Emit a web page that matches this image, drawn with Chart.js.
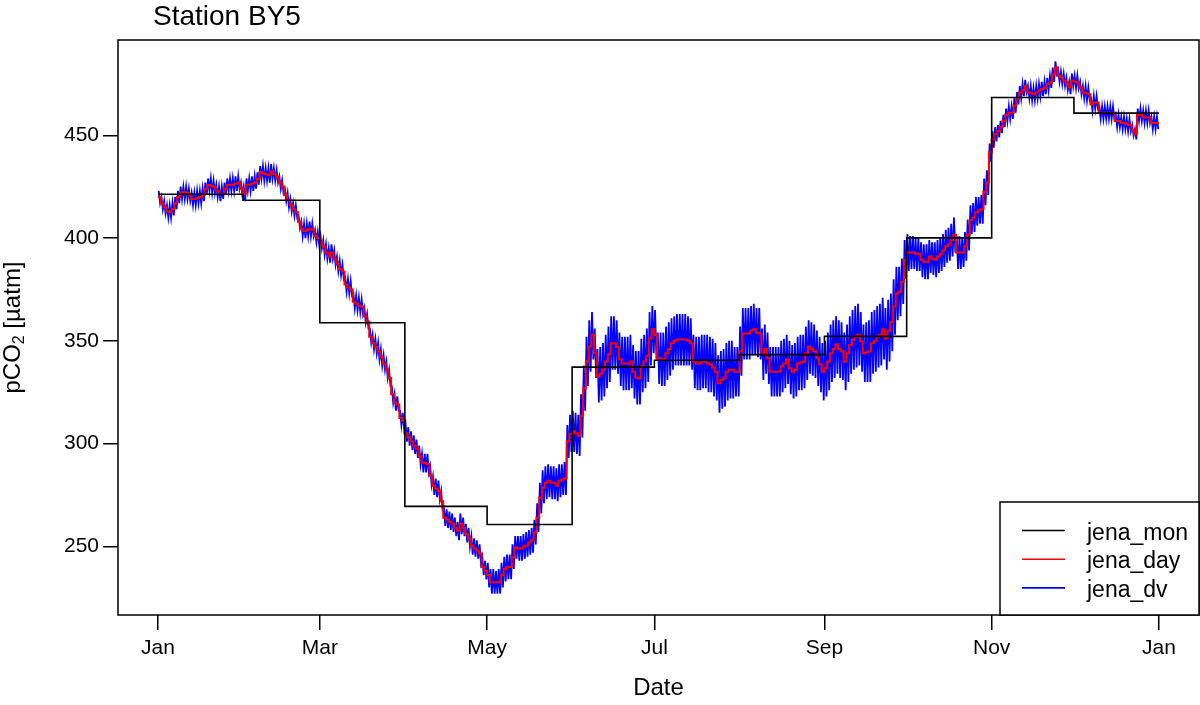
<!DOCTYPE html>
<html><head><meta charset="utf-8">
<script src="https://cdn.jsdelivr.net/npm/chart.js@4"></script>
<style>html,body{margin:0;padding:0;background:#fff;}canvas{display:block;}</style>
</head><body>
<canvas id="c" width="1200" height="705"></canvas>
<script>
const FONT = "'Liberation Sans', Arial, Helvetica, sans-serif";
const titleText = 'Station BY5';
const xTitle = 'Date';
const seriesNames = ['jena_mon', 'jena_day', 'jena_dv'];
const seriesColors = ['#000000', '#ff0000', '#0000ff'];
const tickLabels = ['Jan', 'Mar', 'May', 'Jul', 'Sep', 'Nov', 'Jan'];
const tickDays = [0, 59, 120, 181, 243, 304, 365];
const yTicks = [250, 300, 350, 400, 450];
const monthStart = [0, 31, 59, 90, 120, 151, 181, 212, 243, 273, 304, 334];
const jenaMon = [421.3, 418.4, 358.8, 269.5, 260.7, 337.2, 340.6, 343.3, 352.2, 400.1, 468.4, 460.8];
const jenaDay = [
420,417,415,413,412.7,414,417,420,422,422.4,
422,421,419,419,419.5,420,421,424,425.8,425.5,
425,423,421.5,421.5,424,426,426,426,426.5,427,
424,421.5,426,426,426.5,427,428.7,432,431.5,431,
430.6,432.5,431,429.7,427,425,421,418.5,416,414,
412.7,408,404.5,403.5,404,404.5,404,401,400,398,
395.8,393,391,393,390,387.5,385,383.7,377.4,376,
375,369,368,367,366.7,362,359.4,352,349,347,
345,342,339,336,332,324,320,319,312.5,311,
305,303,301,299,297.5,294,290.8,290.5,290,284.4,
279.5,278,277,272,264,263,262,261,259,257.7,
261,259,256,254,250.5,249,248,246.5,240,238,
236,232.6,232.6,232.6,232.6,236,239,240,240,244.7,
249.5,249,249,250,250.5,252,253,256.8,264,273.7,
278.6,281,282,281,281,279.5,282,282.5,283,301,
304.7,306,305,303.8,313.5,327,340,347.3,353,344,
332.8,334,336,340,343.5,348.8,348.8,347,341,339,
339,339,340,335,332,331.8,337.7,340,342.5,351.2,
355.6,353,341.5,341,341,344,346,348.8,350,350.7,
350.7,350.7,350.7,350,348.8,340,339,339,340,340,
339,338.6,337,335,329.4,331,331.8,335,336,336,
335,335,344.9,353.6,353.6,353.6,355,355.6,354,353.6,
343.5,346,341.5,335,335,335,335,337.7,339,341,
336.7,335,336,339,339.5,340,344,347.3,346,345,
341.5,338.6,335,336.7,340,344,346,348.3,346,345,
340,344,348,350.7,352,353,349.8,344,344.5,345,
348.8,350,352,353,355.6,351.2,355,359,366.7,373,
374,378.8,389.5,393,393,393,392.4,392.4,389.5,388.5,
388.5,391,390,389.5,391,392.4,394,396,397,399,
401.6,393,393,393,396,401.6,408.8,410,412.7,413.5,
414,422.4,427,441.8,448,450.5,452,454,457,460,
461,461,464.5,468,470.8,472,474,470.8,470.5,470,
471,471.8,472.5,473.2,475,475.7,479.5,483,479,478,
476.6,475,473.2,476.6,476,475.7,473,470.8,470.5,470,
465,466,466,461,461,461,461,461,461,457,
457,456,456,455.3,455,452.4,450.5,460,460,458.7,
458.7,458.7,456,456,456
];
// two readings per day (night high, afternoon low)
const jenaDv = [
423,417,420,414,418,412,416,410,416,410,417,411,420,414,423,417,425,419,425,419,
425,419,424,418,422,416,422,416,423,417,423,417,424,418,427,421,429,423,429,422,
428,422,426,420,425,418,425,419,427,421,429,423,429,423,429,423,430,423,430,424,
427,421,425,418,429,423,429,423,430,423,430,424,432,426,435,429,435,428,434,428,
434,427,436,429,434,428,433,427,430,424,428,422,424,418,422,415,419,413,417,411,
416,410,411,405,408,401,407,400,407,401,408,401,407,401,404,398,403,397,401,395,
399,392,397,390,395,388,397,390,394,387,391,384,389,382,387,380,381,374,380,373,
379,372,373,366,372,365,371,364,370,363,366,359,363,356,356,349,353,346,351,344,
349,341,346,338,343,336,340,332,336,328,328,320,324,316,323,316,316,309,315,307,
310,301,308,299,306,297,304,295,302,293,299,290,295,286,295,286,295,286,289,280,
284,275,283,274,282,273,277,268,269,260,268,259,267,258,266,257,264,255,262,253,
266,256,264,255,261,252,259,250,255,246,254,245,253,244,251,242,245,236,243,234,
242,230,239,227,239,227,238,227,239,227,242,230,245,233,246,234,246,234,251,239,
255,244,255,243,255,243,256,244,257,245,258,246,259,247,263,251,271,257,281,266,
287,271,289,273,290,274,289,273,289,273,288,272,290,274,290,275,291,275,309,293,
314,296,316,296,315,295,314,294,324,303,338,316,352,328,360,335,364,341,356,332,
346,320,347,321,349,323,353,327,357,330,362,336,362,336,360,334,354,328,352,326,
352,326,352,326,353,327,348,322,345,319,345,319,351,325,353,327,356,330,364,338,
367,344,365,341,354,329,354,328,354,328,357,331,359,333,361,336,362,338,363,338,
363,338,363,338,363,338,362,338,361,336,353,327,352,326,352,326,353,327,353,327,
353,325,352,325,351,323,349,321,343,315,345,317,346,318,349,321,350,322,350,322,
347,323,347,323,357,333,366,341,366,341,366,341,367,343,368,343,366,342,366,341,
356,331,358,334,354,329,347,323,347,323,347,323,347,323,350,325,351,327,353,329,
350,324,348,322,349,323,352,326,353,326,353,327,357,331,360,334,359,333,358,332,
355,328,352,325,349,321,350,323,354,326,358,330,360,332,362,334,360,332,359,331,
354,326,358,330,362,334,365,336,367,337,368,338,364,335,358,330,359,330,360,330,
364,334,365,335,367,337,368,338,371,341,366,336,370,340,373,345,380,353,386,360,
386,362,390,368,399,380,402,384,401,385,401,385,400,384,400,384,398,381,397,380,
397,380,399,383,398,382,398,381,399,383,400,384,402,386,404,388,405,389,407,391,
410,393,401,385,401,385,400,386,403,389,409,394,416,402,417,403,420,406,420,407,
421,407,429,416,433,421,446,437,452,444,454,447,455,449,457,451,460,454,463,457,
464,458,464,458,468,461,471,465,474,468,475,469,477,471,474,468,474,467,473,467,
474,468,475,469,476,469,476,470,478,472,479,473,483,476,486,480,482,476,481,475,
480,474,478,472,476,470,480,474,479,473,479,473,476,470,474,468,474,467,473,467,
468,462,469,463,469,463,464,458,464,458,464,458,464,458,464,458,464,458,460,454,
460,454,459,453,459,453,458,452,458,452,455,450,453,448,463,457,463,457,462,456,
462,456,462,456,459,453,459,453,459,453
];

const YEAR_END = 365;
const monPts = monthStart.map((d, i) => ({ x: d, y: jenaMon[i] }));
monPts.push({ x: YEAR_END, y: jenaMon[jenaMon.length - 1] });
const dayPts = jenaDay.map((v, i) => ({ x: i, y: v }));
dayPts.push({ x: YEAR_END, y: jenaDay[jenaDay.length - 1] });
const dvPts = jenaDv.map((v, i) => ({ x: i / 2 + 0.25, y: v }));

// R-style 4% axis extension
const xPad = 0.04 * YEAR_END;
const yMinData = Math.min(...jenaDv), yMaxData = Math.max(...jenaDv);
const yPad = 0.04 * (yMaxData - yMinData);

const frame = {
  id: 'frame',
  afterDatasetsDraw(chart) {
    const ctx = chart.ctx, a = chart.chartArea;
    ctx.save();
    ctx.strokeStyle = '#000';
    ctx.lineWidth = 1.5;
    ctx.strokeRect(a.left, a.top, a.right - a.left, a.bottom - a.top);

    // legend (bottom right)
    const lw = 199, lh = 113;
    const lx = a.right - lw, ly = a.bottom - lh;
    ctx.fillStyle = '#fff';
    ctx.fillRect(lx, ly, lw, lh);
    ctx.strokeRect(lx, ly, lw, lh);
    ctx.font = '23px ' + FONT;
    ctx.textBaseline = 'alphabetic';
    ctx.textAlign = 'left';
    seriesNames.forEach((n, i) => {
      const yy = ly + 28.5 + i * 28.7;
      ctx.strokeStyle = seriesColors[i];
      ctx.lineWidth = 1.6;
      ctx.beginPath(); ctx.moveTo(lx + 22, yy); ctx.lineTo(lx + 65, yy); ctx.stroke();
      ctx.fillStyle = '#000';
      ctx.fillText(n, lx + 87, yy + 9);
    });

    // title
    ctx.fillStyle = '#000';
    ctx.font = '28px ' + FONT;
    ctx.fillText(titleText, 153, 25);

    // x title
    ctx.font = '24px ' + FONT;
    ctx.textAlign = 'center';
    ctx.fillText(xTitle, (a.left + a.right) / 2, 695);

    // y title with subscript
    ctx.translate(20, (a.top + a.bottom) / 2);
    ctx.rotate(-Math.PI / 2);
    ctx.textAlign = 'left';
    const big = '24px ' + FONT, small = '16px ' + FONT;
    ctx.font = big; const w1 = ctx.measureText('pCO').width;
    ctx.font = small; const w2 = ctx.measureText('2').width;
    ctx.font = big; const w3 = ctx.measureText(' [\u00b5atm]').width;
    let sx = -(w1 + w2 + w3) / 2;
    ctx.font = big; ctx.fillText('pCO', sx, 0); sx += w1;
    ctx.font = small; ctx.fillText('2', sx, 4); sx += w2;
    ctx.font = big; ctx.fillText(' [\u00b5atm]', sx, 0);
    ctx.restore();
  }
};

new Chart(document.getElementById('c'), {
  type: 'line',
  data: {
    datasets: [
      { label: seriesNames[0], data: monPts, borderColor: seriesColors[0], borderWidth: 1.6, stepped: 'before', order: 0 },
      { label: seriesNames[1], data: dayPts, borderColor: seriesColors[1], borderWidth: 2, stepped: 'before', order: 1 },
      { label: seriesNames[2], data: dvPts, borderColor: seriesColors[2], borderWidth: 1.8, order: 2 }
    ]
  },
  options: {
    responsive: false,
    animation: false,
    devicePixelRatio: 1,
    layout: { padding: { top: 40, right: 1, left: 0, bottom: 0 } },
    elements: { point: { radius: 0 }, line: { tension: 0, fill: false } },
    plugins: { legend: { display: false }, tooltip: { enabled: false }, title: { display: false } },
    scales: {
      x: {
        type: 'linear',
        min: -xPad, max: YEAR_END + xPad,
        afterBuildTicks(s) { s.ticks = tickDays.map(v => ({ value: v })); },
        afterFit(s) { s.height = 90; },
        ticks: { autoSkip: false, maxRotation: 0, color: '#000', padding: 6,
                 font: { family: FONT, size: 21 },
                 callback: (v, i) => tickLabels[i] },
        grid: { drawOnChartArea: false, drawTicks: true, tickLength: 15, color: '#000', lineWidth: 1.5 },
        border: { display: false }
      },
      y: {
        min: yMinData - yPad, max: yMaxData + yPad,
        afterBuildTicks(s) { s.ticks = yTicks.map(v => ({ value: v })); },
        afterFit(s) { s.width = 118; },
        ticks: { color: '#000', padding: 4, font: { family: FONT, size: 21 }, callback: v => String(v) },
        grid: { drawOnChartArea: false, drawTicks: true, tickLength: 15, color: '#000', lineWidth: 1.5 },
        border: { display: false }
      }
    }
  },
  plugins: [frame]
});
</script>
</body></html>
